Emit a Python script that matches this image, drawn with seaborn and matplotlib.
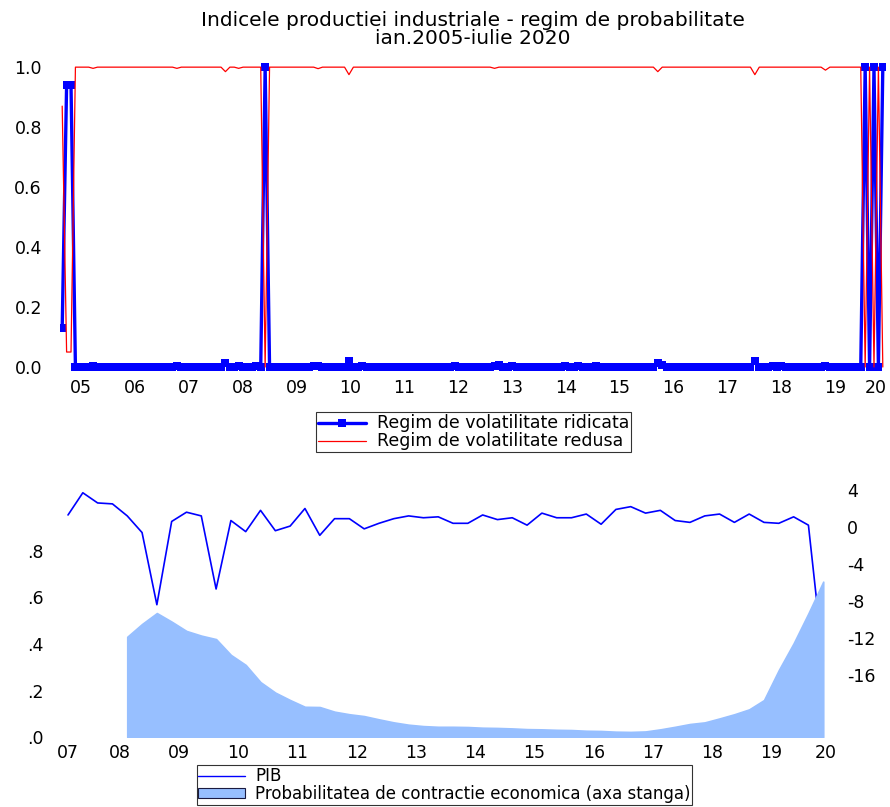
import numpy as np
import pandas as pd
import seaborn as sns
import matplotlib.pyplot as plt
from matplotlib.lines import Line2D
from matplotlib.patches import Patch

sns.set_style("white")
plt.rcParams['font.family'] = ['DejaVu Sans']
plt.rcParams['axes.unicode_minus'] = False
plt.rcParams['text.color'] = 'black'
plt.rcParams['xtick.color'] = 'black'
plt.rcParams['ytick.color'] = 'black'

# --- top panel: monthly regime probabilities, ian.2005 - iulie 2020 ---
n_months = 187
year_labels_top = ['05', '06', '07', '08', '09', '10', '11', '12', '13', '14',
                   '15', '16', '17', '18', '19', '20']
# months (index from ian.2005) where the high-volatility regime is not zero
high_vol = {0: 0.13, 1: 0.94, 2: 0.94, 7: 0.004, 26: 0.004, 37: 0.012, 40: 0.004,
            44: 0.005, 46: 1.0, 57: 0.003, 58: 0.005, 65: 0.02, 68: 0.003,
            89: 0.003, 98: 0.004, 99: 0.006, 102: 0.003, 114: 0.003, 117: 0.002,
            121: 0.002, 135: 0.012, 136: 0.008, 157: 0.02, 161: 0.002, 163: 0.003,
            173: 0.005, 182: 1.0, 184: 1.0, 186: 1.0}
# months where the low-volatility regime falls below one
low_vol = {0: 0.87, 1: 0.05, 2: 0.05, 7: 0.996, 26: 0.996, 37: 0.985, 40: 0.996,
           46: 0.0, 58: 0.995, 65: 0.975, 98: 0.996, 135: 0.985, 157: 0.975,
           173: 0.99, 182: 0.0, 184: 0.0, 186: 0.0}

# --- bottom panel: quarterly, from 2007 T1 ---
pib = [1.3, 3.7, 2.6, 2.5, 1.2, -0.6, -8.4, 0.6, 1.6, 1.2, -6.7, 0.7, -0.5, 1.8,
       -0.4, 0.1, 2.0, -0.9, 0.9, 0.9, -0.2, 0.4, 0.9, 1.2, 1.0, 1.1, 0.4, 0.4,
       1.3, 0.8, 1.0, 0.2, 1.5, 1.0, 1.0, 1.4, 0.3, 1.9, 2.2, 1.5, 1.8, 0.7, 0.5,
       1.2, 1.4, 0.5, 1.4, 0.5, 0.4, 1.1, 0.2, -14.5]
prob_start = 4  # 2008 T1
prob_contractie = [0.431, 0.486, 0.533, 0.496, 0.456, 0.436, 0.421, 0.353, 0.310,
                   0.236, 0.191, 0.159, 0.130, 0.129, 0.109, 0.098, 0.090, 0.076,
                   0.063, 0.053, 0.047, 0.044, 0.044, 0.043, 0.040, 0.039, 0.037,
                   0.034, 0.033, 0.031, 0.030, 0.027, 0.026, 0.023, 0.022, 0.024,
                   0.033, 0.044, 0.056, 0.063, 0.080, 0.098, 0.119, 0.159, 0.288,
                   0.403, 0.532, 0.668]
year_labels_bottom = ['07', '08', '09', '10', '11', '12', '13', '14', '15', '16',
                      '17', '18', '19', '20']

# build full monthly series from the readings
months = np.arange(n_months)
high = np.zeros(n_months)
for k, v in high_vol.items():
    high[k] = v
low = np.ones(n_months)
for k, v in low_vol.items():
    low[k] = v
top = pd.DataFrame({'luna': months, 'ridicata': high, 'redusa': low})

quarters = np.arange(len(pib))
bottom = pd.DataFrame({'trim': quarters, 'pib': pib})
q_prob = np.arange(prob_start, prob_start + len(prob_contractie))

AREA = '#97BFFF'
TICK_FS = 12.5

fig = plt.figure(figsize=(8.9, 8.07), dpi=100)

# ---------------- top chart ----------------
ax1 = fig.add_axes([0.0674, 0.539, 0.927, 0.384])
sns.lineplot(data=top, x='luna', y='ridicata', ax=ax1, color='#0000FF', lw=2.4,
             marker='s', markersize=6, markeredgewidth=0)
sns.lineplot(data=top, x='luna', y='redusa', ax=ax1, color='#FF0000', lw=0.9)
ax1.set_xlim(-0.5, n_months - 0.5)
ax1.set_ylim(-0.0167, 1.0167)
ax1.set_yticks([0, 0.2, 0.4, 0.6, 0.8, 1.0])
ax1.set_yticklabels(['0.0', '0.2', '0.4', '0.6', '0.8', '1.0'])
ax1.set_xticks([4.3 + 12.2 * i for i in range(15)] + [184.3])
ax1.set_xticklabels(year_labels_top)
ax1.set_xlabel('')
ax1.set_ylabel('')
ax1.tick_params(axis='y', length=0, pad=13, labelsize=TICK_FS)
ax1.tick_params(axis='x', length=0, pad=5, labelsize=TICK_FS)
sns.despine(ax=ax1, left=True, bottom=True)
ax1.set_title('Indicele productiei industriale - regim de probabilitate\n'
              'ian.2005-iulie 2020', fontsize=14.5, pad=13, linespacing=0.95)

h_top = [Line2D([], [], color='#0000FF', lw=2.4, marker='s', markersize=6,
                markeredgewidth=0),
         Line2D([], [], color='#FF0000', lw=0.9)]
leg1 = fig.legend(h_top, ['Regim de volatilitate ridicata', 'Regim de volatilitate redusa'],
                  loc='upper center', bbox_to_anchor=(0.532, 0.489), frameon=True,
                  fancybox=False, edgecolor='black', fontsize=12.5, handlelength=2.8,
                  handleheight=0.5, borderpad=0.1, labelspacing=0.0,
                  handletextpad=0.6, borderaxespad=0)
leg1.get_frame().set_linewidth(0.8)

# ---------------- bottom chart ----------------
ax2 = fig.add_axes([0.0681, 0.0867, 0.8652, 0.3185])
ax3 = ax2.twinx()
sns.lineplot(data=bottom, x='trim', y='pib', ax=ax3, color='#0000FF', lw=1.2)
ax2.fill_between(q_prob, prob_contractie, 0, facecolor=AREA, edgecolor=AREA, lw=1.2)
ax2.set_zorder(ax3.get_zorder() + 1)
ax2.patch.set_visible(False)

ax2.set_xlim(-0.5, len(pib) - 0.5)
ax2.set_ylim(0, 1.105)
ax3.set_ylim(-22.7, 5.08)
ax2.set_yticks([0, 0.2, 0.4, 0.6, 0.8])
ax2.set_yticklabels(['.0', '.2', '.4', '.6', '.8'])
ax3.set_yticks([4, 0, -4, -8, -12, -16])
ax2.set_xticks([0] + [3.5 + 4 * i for i in range(12)] + [51.2])
ax2.set_xticklabels(year_labels_bottom)
for a in (ax2, ax3):
    a.set_xlabel('')
    a.set_ylabel('')
    sns.despine(ax=a, left=True, bottom=True, right=True)
ax2.tick_params(axis='y', length=0, pad=12, labelsize=TICK_FS)
ax2.tick_params(axis='x', length=0, pad=5, labelsize=TICK_FS)
ax3.tick_params(axis='y', length=0, pad=12, labelsize=TICK_FS)

h_bot = [Line2D([], [], color='#0000FF', lw=1.0),
         Patch(facecolor=AREA, edgecolor='#1a1a40', lw=0.8)]
leg2 = fig.legend(h_bot, ['PIB', 'Probabilitatea de contractie economica (axa stanga)'],
                  loc='lower center', bbox_to_anchor=(0.4994, 0.003), frameon=True,
                  fancybox=False, edgecolor='black', fontsize=12, handlelength=2.8,
                  handleheight=0.5, borderpad=0.1, labelspacing=0.0,
                  handletextpad=0.6, borderaxespad=0)
leg2.get_frame().set_linewidth(0.8)

fig.savefig('out.png', dpi=100)
